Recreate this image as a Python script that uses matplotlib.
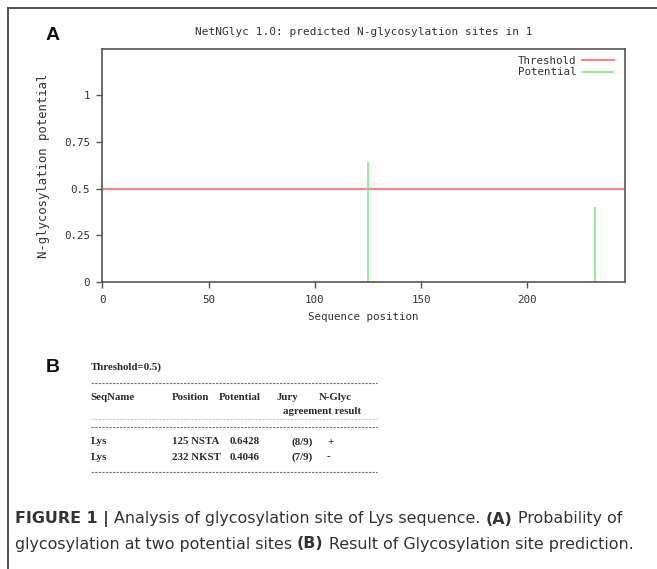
import matplotlib
matplotlib.use("Agg")
import matplotlib.pyplot as plt
from matplotlib.lines import Line2D

# ---------------- data ----------------
positions = [125, 232]
potentials = [0.6428, 0.4046]
threshold = 0.5
seq_length = 246
xticks = [0, 50, 100, 150, 200]
yticks = [0, 0.25, 0.5, 0.75, 1]
ytick_labels = ["0", "0.25", "0.5", "0.75", "1"]

table_header1 = ["SeqName", "Position", "Potential", "Jury", "N-Glyc"]
table_header2 = "agreement result"
table_names = ["Lys", "Lys"]
table_pos = ["125 NSTA", "232 NKST"]
table_pot = ["0.6428", "0.4046"]
table_jury = ["(8/9)", "(7/9)"]
table_res = ["+", "-"]

W, H = 657, 569
fig = plt.figure(figsize=(W / 100, H / 100), dpi=100)
fig.patch.set_facecolor("white")

def fx(px):
    return px / W

def fy(py):
    return 1 - py / H

# outer frame (top and left edges visible)
fig.add_artist(Line2D([fx(8), fx(657)], [fy(8), fy(8)], color="#444444", lw=1.3))
fig.add_artist(Line2D([fx(8), fx(8)], [fy(8), fy(569)], color="#444444", lw=1.3))

# ---------------- panel A ----------------
ax = fig.add_axes([fx(102.3), fy(282.3), fx(625) - fx(102.3), fy(49.3) - fy(282.3)])
ax.set_xlim(0, seq_length)
ax.set_ylim(0, 1.244)
mono = "DejaVu Sans Mono"
tc = "#333333"
mfs = 7.8
ax.axhline(threshold, color="#f08a8a", lw=1.6, label="Threshold")
ax.vlines(positions, 0, potentials, color="#80ea80", lw=1.2, label="Potential")
ax.set_xticks(xticks)
ax.set_xticklabels([str(v) for v in xticks], family=mono, fontsize=mfs, color=tc)
ax.set_yticks(yticks)
ax.set_yticklabels(ytick_labels, family=mono, fontsize=mfs, color=tc)
ax.tick_params(direction="out", length=4, width=1, color="#555555", pad=5)
for s in ax.spines.values():
    s.set_color("#555555")
    s.set_linewidth(1.2)
ax.set_xlabel("Sequence position", family=mono, fontsize=mfs, color=tc, labelpad=5)
ax.set_ylabel("N-glycosylation potential", family=mono, fontsize=8.8, color=tc, labelpad=10)
ax.set_title("NetNGlyc 1.0: predicted N-glycosylation sites in 1", family=mono,
             fontsize=8, color=tc, pad=10)
leg = ax.legend(loc="upper right", frameon=False, markerfirst=False,
                prop={"family": mono, "size": mfs}, handlelength=3.0,
                borderaxespad=0.2, labelspacing=0.15, handletextpad=0.5,
                bbox_to_anchor=(0.992, 1.0))
for t in leg.get_texts():
    t.set_color(tc)
    t.set_ha("right")

fig.text(fx(46), fy(35), "A", fontsize=14, fontweight="bold", family="Liberation Sans",
         ha="left", va="center", color="#111111")

# ---------------- panel B (table) ----------------
fig.text(fx(46), fy(367), "B", fontsize=14, fontweight="bold", family="Liberation Sans",
         ha="left", va="center", color="#111111")
serif = "Liberation Serif"
tcol = "#2a2a2a"
fs = 7.8
def ttext(x, y, s, ha="left"):
    fig.text(fx(x), fy(y), s, fontsize=fs, fontweight="bold", family=serif,
             ha=ha, va="center", color=tcol)

ttext(90.5, 367, "Threshold=0.5)")
def dash(y, c="#777777"):
    fig.add_artist(Line2D([fx(90.5), fx(377)], [fy(y), fy(y)], color=c, lw=0.8,
                          linestyle=(0, (2.2, 1.0))))
dash(383)
dash(419, "#cccccc")
dash(427)
dash(472)

hx = [90.5, 172, 219, 277, 319]
for x, s in zip(hx, table_header1):
    ttext(x, 397, s)
ttext(283, 412, table_header2)
for i, y in enumerate([442, 457]):
    ttext(90.5, y, table_names[i])
    ttext(172, y, table_pos[i])
    ttext(230, y, table_pot[i])
    ttext(292, y, table_jury[i])
    ttext(327, y, table_res[i])

# ---------------- caption ----------------
cap_font = "DejaVu Sans"
cap_fs = 11.4
cap_col = "#333333"
renderer = fig.canvas.get_renderer()

def rich_line(x0, y, parts):
    x = x0
    for s, bold in parts:
        t = fig.text(fx(x), fy(y), s, fontsize=cap_fs, family=cap_font,
                     fontweight="bold" if bold else "normal", ha="left",
                     va="center", color=cap_col)
        bb = t.get_window_extent(renderer=renderer)
        x += bb.width

rich_line(15, 519, [("FIGURE 1 | ", True), ("Analysis of glycosylation site of Lys sequence. ", False),
                    ("(A)", True), (" Probability of", False)])
rich_line(15, 544, [("glycosylation at two potential sites ", False), ("(B)", True),
                    (" Result of Glycosylation site prediction.", False)])

fig.savefig("out.png", dpi=100, facecolor="white")
